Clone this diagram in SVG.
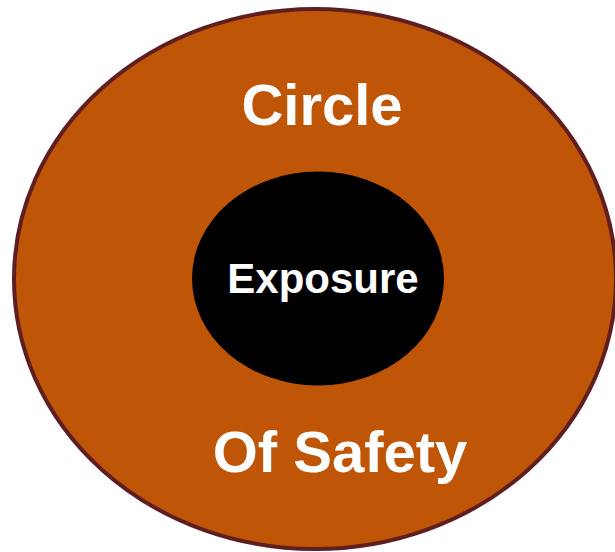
<svg xmlns="http://www.w3.org/2000/svg" width="615" height="552" viewBox="0 0 615 552">
  <style>
    .lbl { font-family: "Liberation Sans", Arial, sans-serif; font-weight: bold; fill: #ffffff; text-anchor: middle; }
  </style>
  <rect width="615" height="552" fill="#ffffff"/>
  <!-- outer ring -->
  <g id="circle-of-safety">
    <ellipse cx="315" cy="279" rx="301" ry="270" fill="#bf5507" stroke="#5f1f20" stroke-width="4"/>
    <text class="lbl" x="322" y="125" font-size="58">Circle</text>
    <text class="lbl" x="340" y="472" font-size="58">Of Safety</text>
  </g>
  <!-- inner core -->
  <g id="exposure">
    <ellipse cx="318" cy="278.5" rx="126" ry="107" fill="#000000"/>
    <text class="lbl" x="323" y="293" font-size="42">Exposure</text>
  </g>
  <g id="connectors"/>
</svg>
